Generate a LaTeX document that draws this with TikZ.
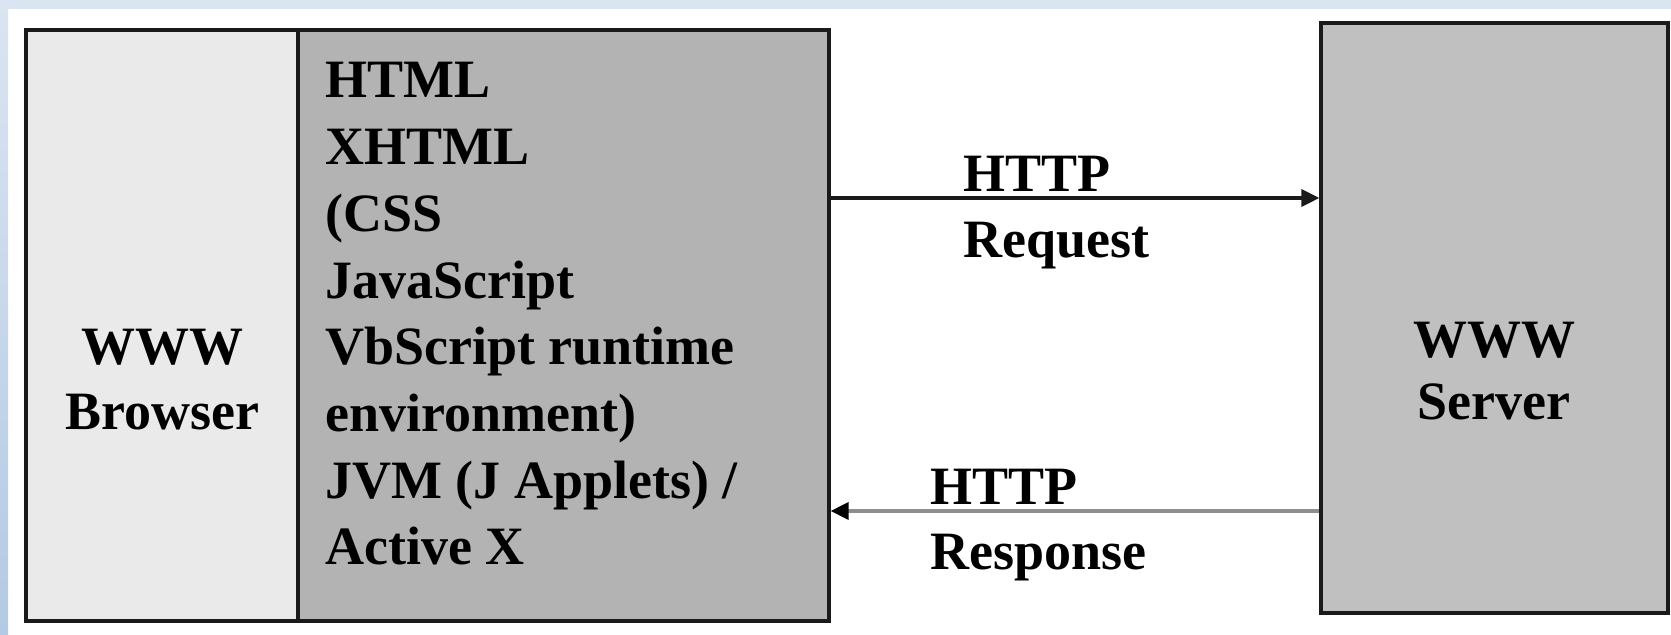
\documentclass[tikz,border=0pt]{standalone}
\usepackage{fontspec}
\setmainfont{Liberation Serif}
\usetikzlibrary{positioning,arrows.meta}
\definecolor{bandblue}{HTML}{DBE5F1}
\definecolor{banddeep}{HTML}{B4C9E3}
\definecolor{brwsoft}{HTML}{EAEAEA}
\definecolor{rtgrey}{HTML}{B3B3B3}
\definecolor{srvgrey}{HTML}{C0C0C0}
\definecolor{inkc}{HTML}{1A1A1A}
\definecolor{respgrey}{HTML}{8E8E8E}

\begin{document}
\begin{tikzpicture}[x=0.5pt, y=-0.5pt,
        box/.style={draw=inkc, line width=1.6pt, inner sep=0pt},
        txt/.style={anchor=base, inner sep=0pt, font=\fontsize{27}{32}\selectfont\bfseries, text=black},
        ltxt/.style={txt, anchor=base west},
        req/.style={-{Triangle[length=9pt, width=8.5pt]}, line width=1.6pt, draw=inkc},
        resp/.style={line width=1.6pt, draw=respgrey, -{Triangle[length=9pt, width=8.5pt, color=black]}}]
      \useasboundingbox (0,0) rectangle (1671,635);
      \fill[white] (0,0) rectangle (1671,635);
      \fill[bandblue] (0,0) rectangle (1671,9);
      \shade[top color=bandblue, bottom color=banddeep] (0,0) rectangle (8,635);
      \node[box, fill=brwsoft, minimum width=136pt, minimum height=295.5pt] (brw) at (162,325.5) {};
      \node[box, fill=rtgrey, minimum width=265.5pt, minimum height=295.5pt] (mid) at (563.5,325.5) {};
      \node[box, fill=srvgrey, minimum width=173.5pt, minimum height=295pt] (srv) at (1494.5,318) {};
      \node[txt] (bwww) at (162,365) {WWW};
      \node[txt] (bname) at (162,430) {Browser};
      \node[txt] (swww) at (1494,358) {WWW};
      \node[txt] (sname) at (1494,420) {Server};
      \foreach \i/\line in {0/HTML, 1/XHTML, 2/{(CSS}, 3/JavaScript, 4/VbScript runtime, 5/{environment)}, 6/{JVM (J Applets) /}, 7/Active X}{
        \node[ltxt] (rt\i) at (325,98+66.7*\i) {\line};
      }
      \coordinate (rq) at (0,198);
      \coordinate (rs) at (0,511);
      \draw[req] (mid.east |- rq) -- (srv.west |- rq);
      \draw[resp] (srv.west |- rs) -- (mid.east |- rs);
      \node[ltxt] (rqa) at (963,192) {HTTP};
      \node[ltxt] (rqb) at (963,258) {Request};
      \node[ltxt] (rsa) at (930,505) {HTTP};
      \node[ltxt] (rsb) at (930,570) {Response};
    \end{tikzpicture}
\end{document}
